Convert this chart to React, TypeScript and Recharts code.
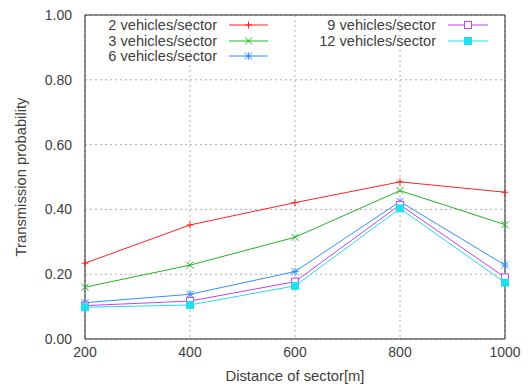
import {
  CartesianGrid,
  Line,
  LineChart,
  ReferenceLine,
  XAxis,
  YAxis,
} from "recharts";

const distances = [200, 400, 600, 800, 1000];
const yTicks = [0, 0.2, 0.4, 0.6, 0.8, 1.0];

const veh2 = [0.234, 0.352, 0.421, 0.485, 0.453];
const veh3 = [0.16, 0.228, 0.314, 0.458, 0.353];
const veh6 = [0.112, 0.138, 0.208, 0.424, 0.228];
const veh9 = [0.103, 0.117, 0.177, 0.414, 0.19];
const veh12 = [0.098, 0.105, 0.164, 0.403, 0.174];

const seriesNames = [
  "2 vehicles/sector",
  "3 vehicles/sector",
  "6 vehicles/sector",
  "9 vehicles/sector",
  "12 vehicles/sector",
];

const FONT = "'Liberation Sans', Arial, sans-serif";
const TEXT = "#404040";

type Marker = "plus" | "cross" | "star" | "square" | "filled";

const series: { key: string; color: string; marker: Marker }[] = [
  { key: "v2", color: "#ff2020", marker: "plus" },
  { key: "v3", color: "#22b422", marker: "cross" },
  { key: "v6", color: "#3090ff", marker: "star" },
  { key: "v9", color: "#c040ff", marker: "square" },
  { key: "v12", color: "#20e0ee", marker: "filled" },
];

const data = distances.map((d, i) => ({
  d,
  v2: veh2[i],
  v3: veh3[i],
  v6: veh6[i],
  v9: veh9[i],
  v12: veh12[i],
}));

function markerShape(kind: Marker, cx: number, cy: number, color: string, key?: string) {
  const s = 3.5;
  switch (kind) {
    case "plus":
      return (
        <g key={key}>
          <line x1={cx - s} y1={cy} x2={cx + s} y2={cy} stroke={color} />
          <line x1={cx} y1={cy - s} x2={cx} y2={cy + s} stroke={color} />
        </g>
      );
    case "cross":
      return (
        <g key={key}>
          <line x1={cx - s} y1={cy - s} x2={cx + s} y2={cy + s} stroke={color} />
          <line x1={cx - s} y1={cy + s} x2={cx + s} y2={cy - s} stroke={color} />
        </g>
      );
    case "star":
      return (
        <g key={key}>
          <line x1={cx - s} y1={cy} x2={cx + s} y2={cy} stroke={color} />
          <line x1={cx} y1={cy - s} x2={cx} y2={cy + s} stroke={color} />
          <line x1={cx - s} y1={cy - s} x2={cx + s} y2={cy + s} stroke={color} />
          <line x1={cx - s} y1={cy + s} x2={cx + s} y2={cy - s} stroke={color} />
        </g>
      );
    case "square":
      return (
        <rect key={key} x={cx - s} y={cy - s} width={s * 2} height={s * 2} fill="#fff" stroke={color} />
      );
    default:
      return (
        <rect key={key} x={cx - s} y={cy - s} width={s * 2} height={s * 2} fill={color} stroke={color} />
      );
  }
}

function Legend() {
  const cols = [
    { textRight: 217, x1: 229, x2: 268, items: [0, 1, 2] },
    { textRight: 436, x1: 448, x2: 488, items: [3, 4] },
  ];
  const rows = [25, 41, 56];
  return (
    <svg width={528} height={385} style={{ position: "absolute", left: 0, top: 0, pointerEvents: "none" }}>
      {cols.map((c) =>
        c.items.map((idx, r) => {
          const s = series[idx];
          const y = rows[r];
          const mid = (c.x1 + c.x2) / 2;
          return (
            <g key={s.key}>
              <text
                x={c.textRight}
                y={y}
                textAnchor="end"
                dominantBaseline="central"
                fontFamily={FONT}
                fontSize={14.6}
                fill={TEXT}
              >
                {seriesNames[idx]}
              </text>
              <line x1={c.x1} y1={y} x2={c.x2} y2={y} stroke={s.color} />
              {markerShape(s.marker, mid, y, s.color)}
            </g>
          );
        })
      )}
    </svg>
  );
}

export default function App() {
  return (
    <div style={{ position: "absolute", left: 0, top: 0, width: 528, height: 385, background: "#fff" }}>
      <LineChart
        width={528}
        height={385}
        data={data}
        margin={{ top: 15, right: 23, bottom: 0, left: 0 }}
      >
        <CartesianGrid stroke="#b0b0b0" strokeDasharray="2 3" />
        <XAxis
          dataKey="d"
          type="number"
          domain={[200, 1000]}
          ticks={distances}
          height={46}
          tickLine={false}
          stroke="#222"
          tick={{ fill: TEXT, fontSize: 14, fontFamily: FONT }}
          tickMargin={2}
          label={{
            value: "Distance of sector[m]",
            position: "center",
            dy: 14,
            fill: TEXT,
            fontSize: 14.8,
            fontFamily: FONT,
          }}
        />
        <YAxis
          type="number"
          domain={[0, 1]}
          ticks={yTicks}
          width={85}
          tickLine={false}
          stroke="#222"
          tickFormatter={(v: number) => v.toFixed(2)}
          tick={{ fill: TEXT, fontSize: 14, fontFamily: FONT }}
          tickMargin={7}
          label={{
            value: "Transmission probability",
            angle: -90,
            position: "center",
            dx: -22,
            fill: TEXT,
            fontSize: 14.8,
            fontFamily: FONT,
          }}
        />
        <ReferenceLine y={1} stroke="#222" />
        <ReferenceLine x={1000} stroke="#222" />
        {series.map((s) => (
          <Line
            key={s.key}
            dataKey={s.key}
            stroke={s.color}
            strokeWidth={1}
            isAnimationActive={false}
            dot={(p: any) => markerShape(s.marker, p.cx, p.cy, s.color, `${s.key}-${p.index}`)}
            activeDot={false}
          />
        ))}
      </LineChart>
      <Legend />
    </div>
  );
}
